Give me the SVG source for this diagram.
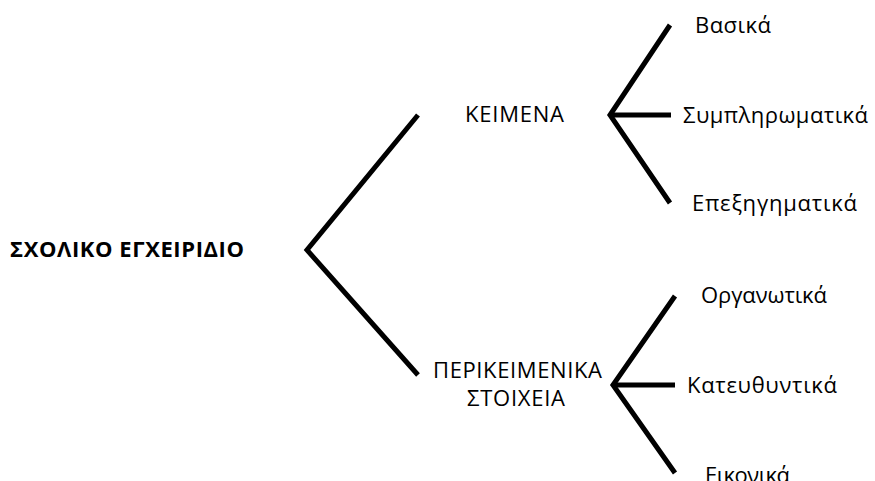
<svg xmlns="http://www.w3.org/2000/svg" width="875" height="481" viewBox="0 0 875 481">
<style>
.t{font-family:"Open Sans","Liberation Sans",sans-serif;font-size:22px;fill:#000}
.b{font-weight:bold}
.c{fill:none;stroke:#000;stroke-width:5;stroke-linejoin:miter}
</style>
<rect width="875" height="481" fill="#fff"/>
<g id="connectors">
<polyline class="c" points="418,115 307,250 418,375"/>
<polyline class="c" points="670,25 610,115 670,203"/>
<line class="c" x1="610" y1="115" x2="671" y2="115"/>
<polyline class="c" points="675,296 613,385 675,473"/>
<line class="c" x1="613" y1="385" x2="675" y2="385"/>
</g>
<g id="root"><text class="t b" x="10" y="257" textLength="234">ΣΧΟΛΙΚΟ ΕΓΧΕΙΡΙΔΙΟ</text></g>
<g id="keimena"><text class="t" x="465" y="122" textLength="99">ΚΕΙΜΕΝΑ</text></g>
<g id="perikeimenika"><text class="t" x="433" y="378" textLength="169">ΠΕΡΙΚΕΙΜΕΝΙΚΑ</text><text class="t" x="467" y="406" textLength="98">ΣΤΟΙΧΕΙΑ</text></g>
<g id="vasika"><text class="t" x="695" y="33" textLength="76">Βασικά</text></g>
<g id="symplirwmatika"><text class="t" x="683" y="123" textLength="185">Συμπληρωματικά</text></g>
<g id="epexigimatika"><text class="t" x="692" y="211" textLength="165">Επεξηγηματικά</text></g>
<g id="organwtika"><text class="t" x="701" y="303" textLength="126">Οργανωτικά</text></g>
<g id="kateythyntika"><text class="t" x="687" y="393" textLength="150">Κατευθυντικά</text></g>
<g id="eikonika"><text class="t" x="705" y="483" textLength="85">Εικονικά</text></g>
</svg>
